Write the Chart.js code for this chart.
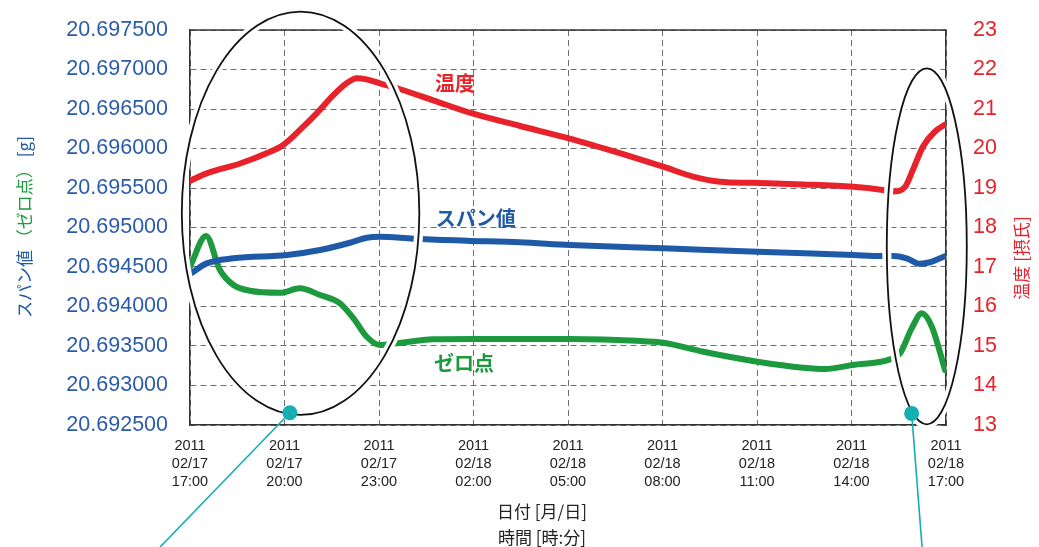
<!DOCTYPE html>
<html>
<head>
<meta charset="utf-8">
<script src="https://cdn.jsdelivr.net/npm/chart.js@4"></script>
<style>
  body { margin: 0; background: #fff; }
  #main { width: 1039px; height: 547px; position: relative; }
</style>
</head>
<body>
<div id="main"><canvas id="grafica"></canvas></div>
<script>
// Tick labels for the x axis (every 3 hours from 2011/02/17 17:00)
const tickYear = '2011';
const tickDates = ['02/17', '02/17', '02/17', '02/18', '02/18', '02/18', '02/18', '02/18', '02/18'];
const tickTimes = ['17:00', '20:00', '23:00', '02:00', '05:00', '08:00', '11:00', '14:00', '17:00'];

// Temperature (right axis), hours after 17:00
const tempHours = [0, 0.53, 1.59, 2.43, 2.96, 3.49, 4.02, 4.55, 4.97, 5.29, 5.61, 6.03, 6.67, 7.72, 8.99, 10.48, 12.06, 13.65, 15.02, 15.97, 16.83, 17.87, 19.46, 21.05, 22.0, 22.32, 22.7, 22.95, 23.27, 23.65, 24];
const tempValues = [19.18, 19.37, 19.62, 19.88, 20.09, 20.47, 20.89, 21.35, 21.65, 21.78, 21.75, 21.65, 21.5, 21.22, 20.88, 20.57, 20.25, 19.88, 19.54, 19.29, 19.16, 19.13, 19.09, 19.03, 18.95, 18.91, 19.03, 19.46, 20.05, 20.43, 20.62];

// Span value (left axis)
const spanHours = [0, 0.53, 1.38, 3.08, 4.13, 5.08, 5.61, 6.03, 7.09, 8.78, 10.48, 12.06, 15.03, 18.02, 21.06, 21.96, 22.33, 22.75, 23.17, 23.49, 24];
const spanValues = [20.694411, 20.694546, 20.69461, 20.694652, 20.694715, 20.694807, 20.694870, 20.694883, 20.694858, 20.694833, 20.694812, 20.694778, 20.694736, 20.694693, 20.694652, 20.694639, 20.694639, 20.69461, 20.69454, 20.69456, 20.694643];

// Zero point (left axis)
const zeroHours = [0, 0.51, 0.95, 1.38, 1.9, 2.86, 3.49, 4.13, 4.76, 5.19, 5.61, 6.03, 6.56, 7.72, 8.99, 10.48, 12.03, 14.18, 15.03, 16.3, 18.02, 19.47, 20.16, 21.03, 22.22, 22.54, 22.91, 23.23, 23.55, 23.97];
const zeroValues = [20.694503, 20.694892, 20.694462, 20.694272, 20.6942, 20.694174, 20.69423, 20.694145, 20.69404, 20.69385, 20.693617, 20.693512, 20.693534, 20.693584, 20.693588, 20.693588, 20.693588, 20.693567, 20.693541, 20.693427, 20.693301, 20.693225, 20.693208, 20.693259, 20.693331, 20.693407, 20.693723, 20.693913, 20.693744, 20.693196];

// Ellipses marking the disturbed periods: [centre hour, centre value(left axis), radius hours, radius value]
const ellipses = [[3.51, 20.69518, 3.77, 0.002553], [23.39, 20.694762, 1.27, 0.002253]];
// Teal pointers: [dot hour, dot value, end hour, end value]
const pointers = [[3.17, 20.692655, -0.95, 20.690955], [22.91, 20.692647, 23.24, 20.690955]];

const RED = '#e8222b', BLUE = '#1f5aa8', GREEN = '#1d9a3d';
const LABEL_BLUE = '#2b5cab';
const JP = '"Noto Sans CJK JP", "Noto Sans", sans-serif';
const LAT = '"Liberation Sans", Arial, sans-serif';

function toPoints(xs, ys) {
  return xs.map((x, i) => ({ x: x, y: ys[i] }));
}

// keep the tick padding from pushing the plot area down
function fixVertical(width) {
  return s => {
    s.width = width;
    s.paddingTop = 10;
    s.paddingBottom = 10;
  };
}

const extras = {
  id: 'extras',
  beforeDatasetsDraw(chart) {
    const { ctx, chartArea } = chart;
    ctx.save();
    ctx.strokeStyle = '#333';
    ctx.lineWidth = 1.5;
    ctx.beginPath();
    ctx.moveTo(chartArea.left, chartArea.top);
    ctx.lineTo(chartArea.right, chartArea.top);
    ctx.stroke();
    ctx.restore();
  },
  afterDatasetsDraw(chart) {
    const { ctx } = chart;
    const sx = chart.scales.x, sy = chart.scales.y, st = chart.scales.y2;
    ctx.save();
    // ellipses, white halo first so the lines appear broken
    ellipses.forEach(e => {
      const cx = sx.getPixelForValue(e[0]);
      const cy = sy.getPixelForValue(e[1]);
      const rx = Math.abs(sx.getPixelForValue(e[0] + e[2]) - cx);
      const ry = Math.abs(sy.getPixelForValue(e[1] + e[3]) - cy);
      ctx.beginPath();
      ctx.ellipse(cx, cy, rx, ry, 0, 0, Math.PI * 2);
      ctx.strokeStyle = '#fff';
      ctx.lineWidth = 9;
      ctx.stroke();
      ctx.strokeStyle = '#111';
      ctx.lineWidth = 1.8;
      ctx.stroke();
    });
    // teal pointers
    pointers.forEach(p => {
      const x0 = sx.getPixelForValue(p[0]), y0 = sy.getPixelForValue(p[1]);
      const x1 = sx.getPixelForValue(p[2]), y1 = sy.getPixelForValue(p[3]);
      ctx.strokeStyle = '#16aeb2';
      ctx.lineWidth = 1.6;
      ctx.beginPath();
      ctx.moveTo(x0, y0);
      ctx.lineTo(x1, y1);
      ctx.stroke();
      ctx.fillStyle = '#16aeb2';
      ctx.beginPath();
      ctx.arc(x0, y0, 7.5, 0, Math.PI * 2);
      ctx.fill();
    });
    // series names inside the plot
    ctx.font = 'bold 20px ' + JP;
    ctx.textAlign = 'center';
    ctx.textBaseline = 'middle';
    ctx.fillStyle = RED;
    ctx.fillText('温度', sx.getPixelForValue(8.41), st.getPixelForValue(21.65));
    ctx.fillStyle = BLUE;
    ctx.fillText('スパン値', sx.getPixelForValue(9.07), sy.getPixelForValue(20.695116));
    ctx.fillStyle = GREEN;
    ctx.fillText('ゼロ点', sx.getPixelForValue(8.70), sy.getPixelForValue(20.69328));
    ctx.restore();
  },
  afterDraw(chart) {
    const { ctx } = chart;
    ctx.save();
    ctx.font = '17px ' + JP;
    ctx.textBaseline = 'middle';
    // left title, multi-coloured, reading bottom to top
    const parts = [['スパン値', BLUE], [' （ゼロ点）', GREEN], [' [g]', BLUE]];
    const total = parts.reduce((s, p) => s + ctx.measureText(p[0]).width, 0);
    ctx.save();
    ctx.translate(25, 227);
    ctx.rotate(-Math.PI / 2);
    let pos = -total / 2;
    ctx.textAlign = 'left';
    parts.forEach(p => {
      ctx.fillStyle = p[1];
      ctx.fillText(p[0], pos, 0);
      pos += ctx.measureText(p[0]).width;
    });
    ctx.restore();
    // right title
    ctx.save();
    ctx.translate(1022, 258);
    ctx.rotate(-Math.PI / 2);
    ctx.textAlign = 'center';
    ctx.fillStyle = RED;
    ctx.fillText('温度 [摂氏]', 0, 0);
    ctx.restore();
    // x title
    ctx.textAlign = 'center';
    ctx.fillStyle = '#222';
    ctx.fillText('日付 [月/日]', 542, 512);
    ctx.fillText('時間 [時:分]', 542, 538);
    ctx.restore();
  }
};

const gridDash = [6, 4];

new Chart(document.getElementById('grafica'), {
  type: 'line',
  data: {
    datasets: [
      {
        label: '温度',
        data: toPoints(tempHours, tempValues),
        yAxisID: 'y2',
        borderColor: RED,
        borderWidth: 6,
        pointRadius: 0,
        cubicInterpolationMode: 'monotone',
        borderCapStyle: 'round',
        borderJoinStyle: 'round'
      },
      {
        label: 'スパン値',
        data: toPoints(spanHours, spanValues),
        yAxisID: 'y',
        borderColor: BLUE,
        borderWidth: 6,
        pointRadius: 0,
        cubicInterpolationMode: 'monotone',
        borderCapStyle: 'round',
        borderJoinStyle: 'round'
      },
      {
        label: 'ゼロ点',
        data: toPoints(zeroHours, zeroValues),
        yAxisID: 'y',
        borderColor: GREEN,
        borderWidth: 6,
        pointRadius: 0,
        cubicInterpolationMode: 'monotone',
        borderCapStyle: 'round',
        borderJoinStyle: 'round'
      }
    ]
  },
  options: {
    responsive: true,
    maintainAspectRatio: false,
    animation: false,
    layout: { padding: { top: 30, left: 0, right: 0, bottom: 0 } },
    plugins: {
      legend: { display: false },
      tooltip: { enabled: false }
    },
    scales: {
      x: {
        type: 'linear',
        min: 0,
        max: 24,
        afterFit: s => { s.height = 122; },
        ticks: {
          stepSize: 3,
          padding: 12,
          color: '#222',
          font: { family: LAT, size: 14.5, lineHeight: 1.25 },
          maxRotation: 0,
          callback: v => [tickYear, tickDates[v / 3], tickTimes[v / 3]]
        },
        grid: { color: '#6f6f6f', lineWidth: 1, drawTicks: false },
        border: { display: true, color: '#333', width: 1.5, dash: gridDash }
      },
      y: {
        position: 'left',
        min: 20.6925,
        max: 20.6975,
        afterFit: fixVertical(190),
        ticks: {
          stepSize: 0.0005,
          padding: 22,
          color: LABEL_BLUE,
          font: { family: LAT, size: 21.5 },
          callback: v => v.toFixed(6)
        },
        grid: { color: '#6f6f6f', lineWidth: 1, drawTicks: false },
        border: { display: true, color: '#333', width: 1.5, dash: gridDash }
      },
      y2: {
        position: 'right',
        min: 13,
        max: 23,
        afterFit: fixVertical(93),
        ticks: {
          stepSize: 1,
          padding: 27,
          color: RED,
          font: { family: LAT, size: 21.5 }
        },
        grid: { display: false, drawTicks: false },
        border: { display: true, color: '#333', width: 1.5 }
      }
    }
  },
  plugins: [extras]
});
</script>
</body>
</html>
